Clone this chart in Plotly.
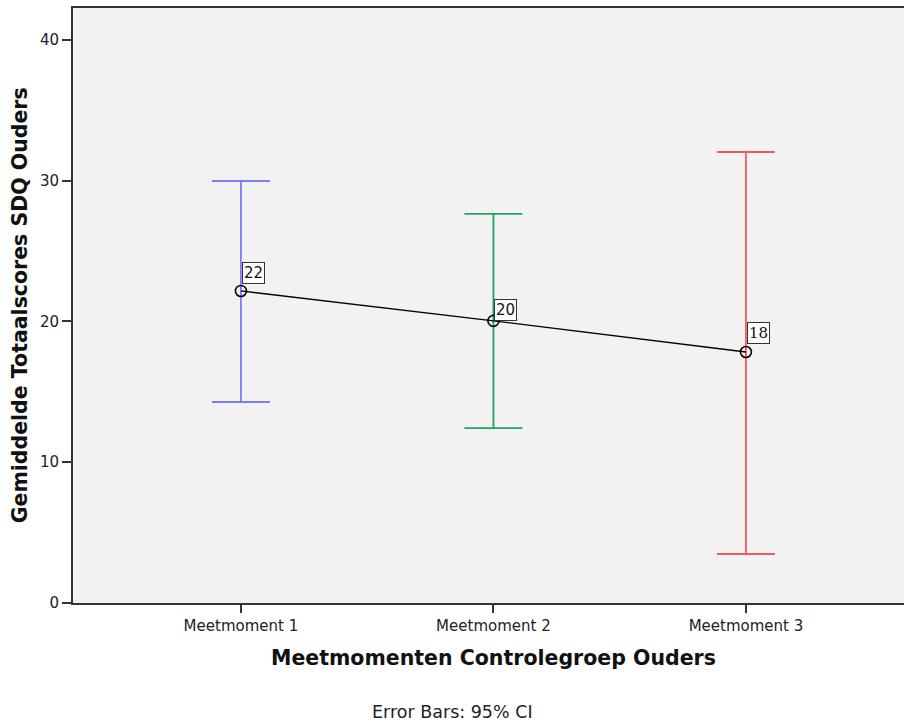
import plotly.graph_objects as go

# Mean SDQ total scores (parents, control group) with 95% confidence intervals
categories = ["Meetmoment 1", "Meetmoment 2", "Meetmoment 3"]
means = [22.17, 20.04, 17.83]
ci_lower = [14.28, 12.43, 3.48]
ci_upper = [29.98, 27.64, 32.04]
bar_colors = ["#7b7bff", "#1fa463", "#f25b5b"]
y_ticks = [0, 10, 20, 30, 40]

xpos = list(range(len(categories)))

fig = go.Figure()

# One error-bar trace per category so each can carry its own colour
for i, cat in enumerate(categories):
    fig.add_trace(go.Scatter(
        x=[xpos[i]], y=[means[i]],
        mode="markers",
        marker=dict(size=1, color="rgba(0,0,0,0)"),
        error_y=dict(
            type="data", symmetric=False,
            array=[ci_upper[i] - means[i]],
            arrayminus=[means[i] - ci_lower[i]],
            color=bar_colors[i], thickness=1.8, width=29,
        ),
        showlegend=False, hoverinfo="skip",
    ))

# Line through the means with open circle markers
fig.add_trace(go.Scatter(
    x=xpos, y=means,
    mode="lines+markers",
    line=dict(color="black", width=1.3),
    marker=dict(symbol="circle-open", size=11, color="black", line=dict(width=1.6)),
    showlegend=False,
))

# Boxed value labels next to each mean
label_fonts = ["DejaVu Sans", "DejaVu Sans", "DejaVu Serif"]
label_yshift = [7, 0, 8]
annotations = []
for i, m in enumerate(means):
    annotations.append(dict(
        x=xpos[i], y=m, xref="x", yref="y",
        text=f"{m:.0f}", showarrow=False,
        xanchor="left", yanchor="bottom", xshift=1, yshift=label_yshift[i],
        font=dict(family=label_fonts[i], size=15, color="#111111"),
        bgcolor="#ffffff", bordercolor="#333333", borderwidth=1, borderpad=1,
    ))

annotations += [
    dict(x=1, y=-0.092, xref="x", yref="paper",
         text="<b>Meetmomenten Controlegroep Ouders</b>", showarrow=False,
         xanchor="center", yanchor="middle",
         font=dict(family="DejaVu Sans", size=20.5, color="#111111")),
    dict(x=-0.064, y=0.5, xref="paper", yref="paper",
         text="<b>Gemiddelde Totaalscores SDQ Ouders</b>", showarrow=False,
         textangle=-90, xanchor="center", yanchor="middle",
         font=dict(family="DejaVu Sans", size=20.5, color="#111111")),
    dict(x=0.457, y=-0.183, xref="paper", yref="paper",
         text="Error Bars: 95% CI", showarrow=False,
         xanchor="center", yanchor="middle",
         font=dict(family="DejaVu Sans", size=17.5, color="#222222")),
]

fig.update_layout(
    width=904, height=723,
    margin=dict(l=73, r=0, t=8, b=120),
    paper_bgcolor="white",
    plot_bgcolor="#f2f2f2",
    annotations=annotations,
    xaxis=dict(
        range=[-0.665, 2.626],
        tickmode="array", tickvals=xpos, ticktext=categories,
        showgrid=False, zeroline=False,
        showline=True, linecolor="#333333", linewidth=2, mirror=True,
        ticks="outside", ticklen=8, tickcolor="#333333", tickwidth=1.5,
        tickfont=dict(family="DejaVu Sans", size=15, color="#222222"),
    ),
    yaxis=dict(
        range=[0, 42.27],
        tickmode="array", tickvals=y_ticks,
        showgrid=False, zeroline=False,
        showline=True, linecolor="#333333", linewidth=2,
        ticks="outside", ticklen=9, tickcolor="#333333", tickwidth=1.5,
        tickfont=dict(family="DejaVu Sans", size=15, color="#222222"),
    ),
)

fig.write_html("out.html")
